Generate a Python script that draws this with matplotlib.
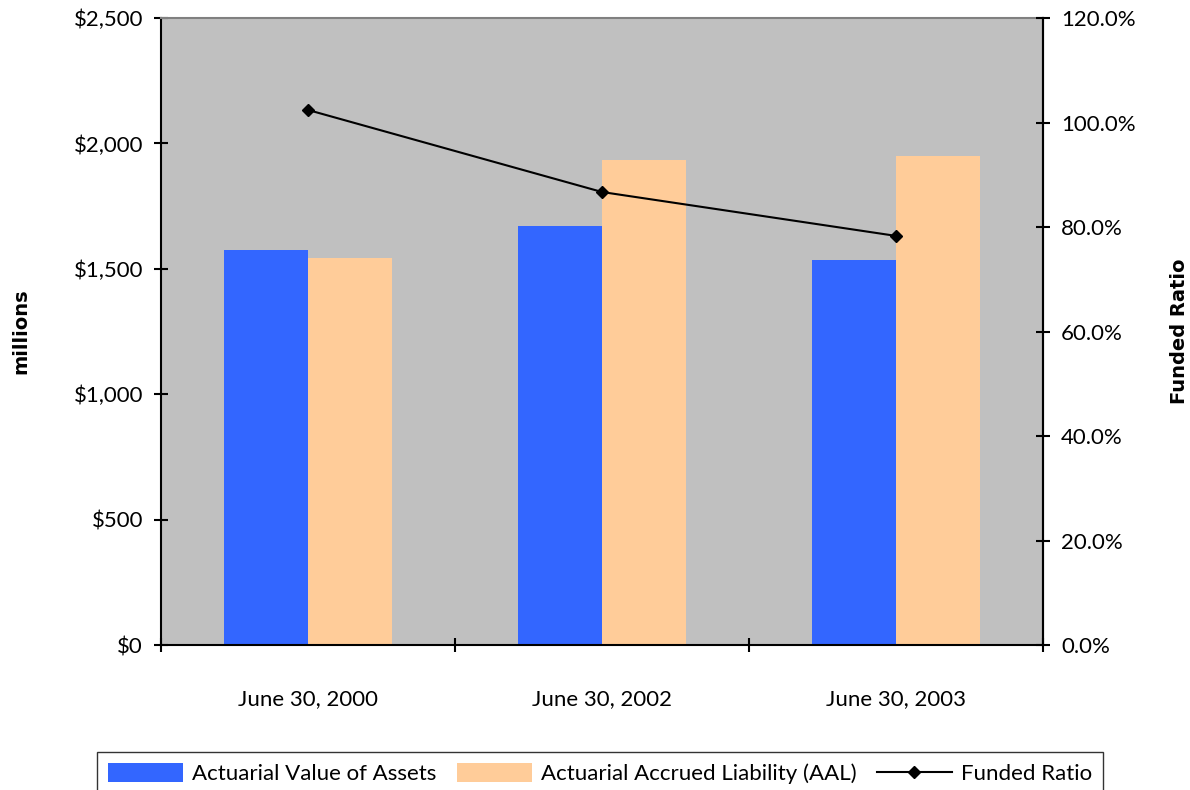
import numpy as np
import matplotlib.pyplot as plt
from matplotlib.ticker import FuncFormatter

plt.rcParams['font.family'] = ['Lato', 'DejaVu Sans']

# valuation dates and results (in $ millions)
dates = ['June 30, 2000', 'June 30, 2002', 'June 30, 2003']
assets = [1575, 1671, 1535]
liability = [1543, 1934, 1950]
funded_ratio = [102.4, 86.7, 78.3]

fig = plt.figure(figsize=(11.9, 7.9), dpi=100)
ax = fig.add_axes([0.1353, 0.1835, 0.7412, 0.7937])
ax.set_facecolor('#c0c0c0')

x = np.arange(len(dates))
w = 0.286
b1 = ax.bar(x - w / 2, assets, w, color='#3366ff', label='Actuarial Value of Assets', zorder=2)
b2 = ax.bar(x + w / 2, liability, w, color='#ffcc99', label='Actuarial Accrued Liability (AAL)', zorder=2)

ax.set_xlim(-0.5, 2.5)
ax.set_ylim(0, 2500)
ax.set_yticks(np.arange(0, 2501, 500))
ax.yaxis.set_major_formatter(FuncFormatter(lambda v, p: f'${v:,.0f}'))
ax.set_xticks(x)
ax.set_xticklabels(dates)
ax.set_xticks([-0.5, 0.5, 1.5, 2.5], minor=True)
ax.tick_params(axis='x', which='major', length=0, pad=32, labelsize=16)
ax.tick_params(axis='x', which='minor', length=10, direction='inout', width=1.5)
ax.tick_params(axis='y', length=10, direction='inout', width=1.5, labelsize=16, pad=8)
ax.set_ylabel('millions', fontsize=14, fontweight='bold', family='DejaVu Sans')
ax.yaxis.set_label_coords(-0.1485, 0.5)

for side in ['left', 'bottom', 'right']:
    ax.spines[side].set_linewidth(1.5)
    ax.spines[side].set_color('black')
ax.spines['top'].set_color('#808080')
ax.spines['top'].set_linewidth(1.5)

# funded ratio on the right axis
ax2 = ax.twinx()
ln, = ax2.plot(x, funded_ratio, color='black', lw=1.5, marker='D', markersize=6,
               label='Funded Ratio', zorder=3)
ax2.set_ylim(0, 120)
ax2.set_yticks(np.arange(0, 121, 20))
ax2.yaxis.set_major_formatter(FuncFormatter(lambda v, p: f'{v:.1f}%'))
ax2.tick_params(axis='y', length=10, direction='inout', width=1.5, labelsize=16, pad=8)
ax2.set_ylabel('Funded Ratio', fontsize=14, fontweight='bold', family='DejaVu Sans')
ax2.yaxis.set_label_coords(1.144, 0.5)
for s in ax2.spines.values():
    s.set_visible(False)
ax2.spines['right'].set_visible(True)
ax2.spines['right'].set_linewidth(1.5)

leg = fig.legend(handles=[b1, b2, ln], loc='upper center', ncol=3,
                 bbox_to_anchor=(0.5042, 1 - 741 / 790), frameon=True, fontsize=16,
                 fancybox=False, edgecolor='black', handlelength=3.4, handleheight=0.9,
                 columnspacing=0.9, handletextpad=0.4, borderpad=0.5)
leg.get_frame().set_linewidth(1.0)

fig.savefig('out.png', dpi=100)
